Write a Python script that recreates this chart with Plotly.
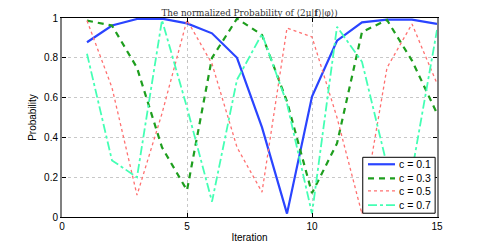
import plotly.graph_objects as go

iterations = list(range(1, 16))
p_c01 = [0.878, 0.962, 0.995, 0.997, 0.973, 0.923, 0.80, 0.45, 0.017, 0.605, 0.886, 0.978, 0.992, 0.992, 0.97]
p_c03 = [0.987, 0.962, 0.75, 0.35, 0.134, 0.80, 0.997, 0.915, 0.58, 0.12, 0.37, 0.93, 0.99, 0.786, 0.52]
p_c05 = [0.987, 0.65, 0.11, 0.52, 0.99, 0.77, 0.35, 0.125, 0.95, 0.905, 0.50, 0.015, 0.75, 0.97, 0.67]
p_c07 = [0.82, 0.284, 0.2, 0.99, 0.55, 0.077, 0.69, 0.92, 0.57, 0.017, 0.956, 0.78, 0.26, 0.23, 0.94]

series_names = ["c = 0.1", "c = 0.3", "c = 0.5", "c = 0.7"]
x_ticks = [0, 5, 10, 15]
y_ticks = [0, 0.2, 0.4, 0.6, 0.8, 1]
y_tick_labels = ["0", "0.2", "0.4", "0.6", "0.8", "1"]

styles = [
    dict(color="#2a44ff", width=2.2, dash="solid"),
    dict(color="#1e9e1e", width=2.2, dash="6px,5px"),
    dict(color="#ff7070", width=1.3, dash="dot"),
    dict(color="#44ffb4", width=1.8, dash="dashdot"),
]

fig = go.Figure()
for name, vals, st in zip(series_names, [p_c01, p_c03, p_c05, p_c07], styles):
    fig.add_trace(go.Scatter(x=iterations, y=vals, mode="lines", name=name, line=st,
                             showlegend=False))

# compact legend box (drawn in paper coordinates)
leg_x0, leg_x1, leg_y0, leg_y1 = 0.802, 0.995, 0.019, 0.300
row_y = [0.265, 0.194, 0.131, 0.060]
fig.add_shape(type="rect", xref="paper", yref="paper", x0=leg_x0, x1=leg_x1, y0=leg_y0, y1=leg_y1,
              line=dict(color="#000", width=1), fillcolor="white", layer="above")
for name, st, ry in zip(series_names, styles, row_y):
    fig.add_shape(type="line", xref="paper", yref="paper", x0=0.816, x1=0.888, y0=ry, y1=ry,
                  line=st, layer="above")
    fig.add_annotation(text=name, xref="paper", yref="paper", x=0.893, y=ry,
                       xanchor="left", yanchor="middle", showarrow=False,
                       font=dict(family="Liberation Sans, Arial, sans-serif", size=10.5, color="#000"))

axis_font = dict(family="Liberation Sans, Arial, sans-serif", size=10, color="#000")
fig.update_layout(
    width=477, height=237,
    margin=dict(l=54, r=48, t=10, b=28, autoexpand=False),
    paper_bgcolor="white", plot_bgcolor="white",
    title=dict(text="The normalized Probability of ⟨2μ|<b>f</b>⟩|φ⟩)",
               x=0.5, xanchor="center", xref="paper", yref="container", y=0.978, yanchor="middle",
               font=dict(family="DejaVu Serif, Liberation Serif, serif", size=8.8, color="#333")),
    font=axis_font,
    showlegend=False,
)
fig.update_xaxes(range=[0, 15], tickvals=x_ticks, ticks="inside", ticklen=4,
                 tickcolor="#000", showline=True, linecolor="#000", linewidth=1, mirror="ticks",
                 showgrid=True, gridcolor="#c8c8c8", griddash="dot", gridwidth=1,
                 zeroline=False, title=dict(text="Iteration", standoff=2, font=axis_font),
                 tickfont=axis_font, automargin=False)
fig.update_yaxes(range=[0, 1], tickvals=y_ticks, ticktext=y_tick_labels, ticks="inside", ticklen=4,
                 tickcolor="#000", showline=True, linecolor="#808080", linewidth=2, mirror="ticks",
                 showgrid=True, gridcolor="#c8c8c8", griddash="dot", gridwidth=1,
                 zeroline=False, title=dict(text="Probability", standoff=6, font=axis_font),
                 tickfont=axis_font, automargin=False)

fig.write_html("out.html")
